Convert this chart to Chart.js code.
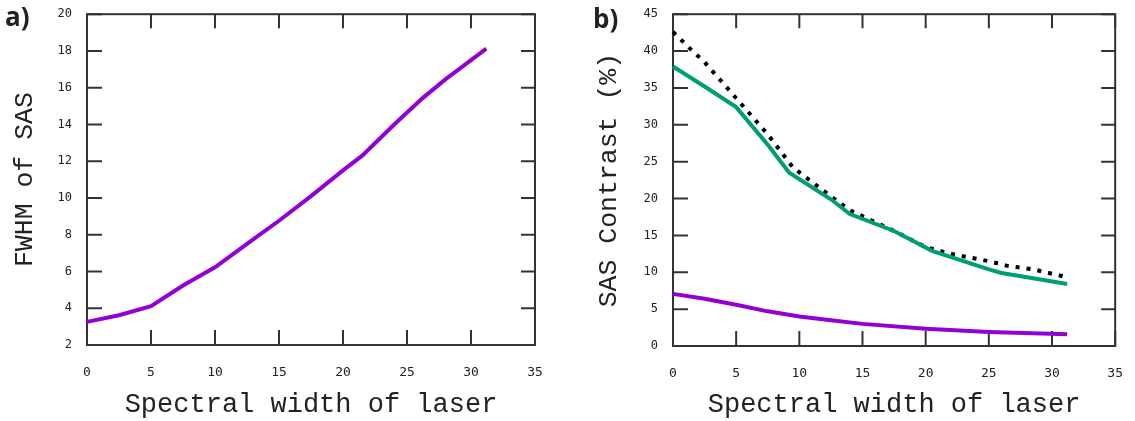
<!doctype html>
<html>
<head>
    <title>SAS vs spectral width</title>
    <script src="https://cdn.jsdelivr.net/npm/chart.js@4/dist/chart.umd.min.js"></script>
    <style>
        html, body { margin:0; background:#fff; overflow:hidden; }
        body { width:1135px; height:421px; position:relative; }
        canvas { position:absolute; top:0; }
        .tag { position:absolute; font-family:"Open Sans", sans-serif; font-weight:700; font-size:26px; color:#222; line-height:1; }
    </style>
</head>
<body>
    <canvas id="chartA" width="575" height="421" style="left:0;"></canvas>
    <canvas id="chartB" width="555" height="421" style="left:580px;"></canvas>
    <div class="tag" style="left:5px; top:3px;">a)</div>
    <div class="tag" style="left:593px; top:5px;">b)</div>
    <script>
        // panel a: FWHM of SAS
        var fwhmX = [0, 2.5, 5, 7.5, 10, 12.5, 15, 17.5, 20, 21.5, 24, 26.2, 28, 31.2];
        var fwhmY = [3.26, 3.62, 4.11, 5.24, 6.23, 7.5, 8.76, 10.1, 11.5, 12.3, 14.0, 15.42, 16.45, 18.13];

        // panel b: SAS contrast (%)
        var dotX = [0, 1.3, 2.5, 5, 7.5, 9.5, 12.5, 14, 17.5, 20, 22, 25, 26.4, 28.5, 31];
        var dotY = [42.6, 40.4, 38.5, 33.6, 28.7, 24.2, 20.3, 18.4, 15.6, 13.4, 12.5, 11.5, 10.9, 10.4, 9.4];
        var greenX = [0, 2.5, 5, 7.5, 9.2, 12.5, 14, 17.5, 20.5, 25, 26, 28.5, 31.2];
        var greenY = [37.9, 35.2, 32.4, 27.3, 23.5, 19.9, 17.9, 15.6, 12.9, 10.4, 9.9, 9.2, 8.4];
        var violetX = [0, 2.5, 5, 7.5, 10, 12.5, 15, 20, 25, 31.2];
        var violetY = [7.07, 6.4, 5.6, 4.7, 4.0, 3.5, 3.0, 2.34, 1.9, 1.58];

        var xTicks = [0, 5, 10, 15, 20, 25, 30, 35];

        function pts(xs, ys) {
            return xs.map(function (x, i) { return {x: x, y: ys[i]}; });
        }

        // box around the plot with gnuplot style inward ticks on all sides
        var frameTicks = {
            id: 'frameTicks',
            beforeDatasetsDraw: function (chart) {
                var ctx = chart.ctx, a = chart.chartArea, x = chart.scales.x, y = chart.scales.y;
                ctx.save();
                ctx.strokeStyle = '#333';
                ctx.lineWidth = 2;
                ctx.strokeRect(a.left, a.top, a.right - a.left, a.bottom - a.top);
                ctx.beginPath();
                x.ticks.forEach(function (t) {
                    var px = x.getPixelForValue(t.value);
                    ctx.moveTo(px, a.bottom); ctx.lineTo(px, a.bottom - 15);
                    ctx.moveTo(px, a.top); ctx.lineTo(px, a.top + 14);
                });
                y.ticks.forEach(function (t) {
                    var py = y.getPixelForValue(t.value);
                    ctx.moveTo(a.left, py); ctx.lineTo(a.left + 15, py);
                    ctx.moveTo(a.right, py); ctx.lineTo(a.right - 14, py);
                });
                ctx.stroke();
                ctx.restore();
            }
        };

        function makeOptions(cfg) {
            return {
                responsive: false,
                devicePixelRatio: 1,
                animation: false,
                layout: {autoPadding: false, padding: {left: 0, top: 12, right: cfg.padRight, bottom: 0}},
                plugins: {legend: {display: false}, tooltip: {enabled: false}},
                elements: {point: {radius: 0}, line: {tension: 0}},
                scales: {
                    x: {
                        type: 'linear', min: 0, max: 35,
                        afterBuildTicks: function (s) { s.ticks = xTicks.map(function (v) { return {value: v}; }); },
                        afterFit: function (s) { s.height = cfg.xHeight; },
                        grid: {display: false}, border: {display: false},
                        ticks: {padding: 12, color: '#222', font: {family: 'DejaVu Sans Mono', size: 13}, maxRotation: 0},
                        title: {display: true, text: 'Spectral width of laser', color: '#222', padding: {top: 0, bottom: 0},
                                font: {family: 'Liberation Mono', size: 27}}
                    },
                    y: {
                        min: cfg.yMin, max: cfg.yMax,
                        ticks: {stepSize: cfg.yStep, padding: 7, color: '#222', font: {family: 'DejaVu Sans Mono', size: 12}},
                        afterFit: function (s) { s.width = cfg.yWidth; },
                        grid: {display: false}, border: {display: false},
                        title: {display: true, text: cfg.yTitle, color: '#222', padding: {top: cfg.yTitlePad, bottom: 0},
                                font: {family: 'Liberation Mono', size: 26.5}}
                    }
                }
            };
        }

        window.onload = function () {
            new Chart(document.getElementById('chartA').getContext('2d'), {
                type: 'line',
                data: {
                    datasets: [{
                        data: pts(fwhmX, fwhmY), borderColor: '#9400d3', borderWidth: 4, clip: false
                    }]
                },
                options: makeOptions({padRight: 40, xHeight: 76, yWidth: 87, yMin: 2, yMax: 20, yStep: 2,
                                      yTitle: 'FWHM of SAS', yTitlePad: 9}),
                plugins: [frameTicks]
            });

            new Chart(document.getElementById('chartB').getContext('2d'), {
                type: 'line',
                data: {
                    datasets: [{
                        data: pts(violetX, violetY), borderColor: '#9400d3', borderWidth: 4, clip: false
                    }, {
                        data: pts(greenX, greenY), borderColor: '#009e73', borderWidth: 4, clip: false
                    }, {
                        data: pts(dotX, dotY), borderColor: '#000', borderWidth: 4, borderDash: [4, 7], clip: false
                    }]
                },
                options: makeOptions({padRight: 12, xHeight: 75, yWidth: 93, yMin: 0, yMax: 45, yStep: 5,
                                      yTitle: 'SAS Contrast (%)', yTitlePad: 13}),
                plugins: [frameTicks]
            });
        };
    </script>
</body>
</html>
